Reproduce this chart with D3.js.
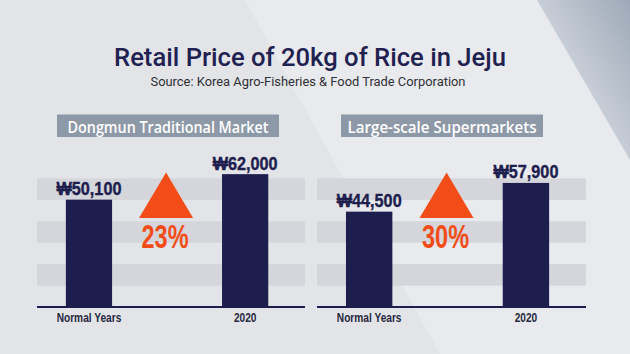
<!DOCTYPE html>
<html>
<head>
<meta charset="utf-8">
<script src="https://cdn.jsdelivr.net/npm/d3@7"></script>
<style>
  html, body { margin: 0; padding: 0; background: #e4e5e8; }
  svg { display: block; }
</style>
</head>
<body>
<svg id="chart" width="630" height="354"></svg>
<script>
// ---- data ----
const title = "Retail Price of 20kg of Rice in Jeju";
const subtitle = "Source: Korea Agro-Fisheries & Food Trade Corporation";
const categories = ["Normal Years", "2020"];
const panelNames = ["Dongmun Traditional Market", "Large-scale Supermarkets"];
const dongmunPrices = [50100, 62000];
const supermarketPrices = [44500, 57900];
const increasePct = [23, 30];
const bandStarts = [10000, 30000, 50000];
const bandSize = 10000;

// ---- styles ----
const W = 630, H = 354;
const navy = "#1d1e4e";
const orange = "#f24d18";
const stripeColor = "#d4d6db";
const headerColor = "#8e99a8";

const svg = d3.select("#chart");

// background
const defs = svg.append("defs");
const g1 = defs.append("linearGradient").attr("id", "corner")
  .attr("x1", "1").attr("y1", "0").attr("x2", "0.3").attr("y2", "0.7");
g1.append("stop").attr("offset", "0").attr("stop-color", "#9ea9b8");
g1.append("stop").attr("offset", "1").attr("stop-color", "#d8dce2");
svg.append("rect").attr("width", W).attr("height", H).attr("fill", "#e3e4e7");
svg.append("polygon").attr("points", "245,0 537,0 630,160 630,354 440,354")
  .attr("fill", "#e9eaed");
svg.append("polygon").attr("points", "537,0 630,0 630,160")
  .attr("fill", "url(#corner)");

// helper: condense text to a factor of its natural width
function condense(sel, factor) {
  sel.each(function() {
    const w = this.getComputedTextLength();
    d3.select(this).attr("textLength", w * factor).attr("lengthAdjust", "spacingAndGlyphs");
  });
}

// title
svg.append("text").attr("x", 310).attr("y", 65.5).attr("text-anchor", "middle")
  .attr("font-family", "Roboto").attr("font-weight", 500).attr("font-size", 26.5)
  .attr("fill", "#1f2150").text(title)
  .call(s => s.attr("textLength", 392).attr("lengthAdjust", "spacingAndGlyphs"));
svg.append("text").attr("x", 308).attr("y", 85.5).attr("text-anchor", "middle")
  .attr("font-family", "Roboto").attr("font-size", 12.5)
  .attr("fill", "#2e3036").text(subtitle)
  .call(s => s.attr("textLength", 315).attr("lengthAdjust", "spacingAndGlyphs"));

// shared y scale
const y = d3.scaleLinear().domain([0, 70000]).range([307, 157]);
const fmt = v => "\u20A9" + d3.format(",")(v);

const panels = [
  { name: panelNames[0], values: dongmunPrices, pct: increasePct[0], x0: 37, x1: 305, hx0: 57, hx1: 279, hw: 201 },
  { name: panelNames[1], values: supermarketPrices, pct: increasePct[1], x0: 317, x1: 586, hx0: 341, hx1: 543, hw: 189 }
];

panels.forEach(p => {
  const g = svg.append("g");
  const x = d3.scaleBand().domain(categories).range([p.x0, p.x1])
    .paddingInner(0.704).paddingOuter(0.21).align(0.44);

  // header
  g.append("rect").attr("x", p.hx0).attr("y", 114.5).attr("width", p.hx1 - p.hx0).attr("height", 22.5)
    .attr("fill", headerColor);
  g.append("text").attr("x", (p.hx0 + p.hx1) / 2).attr("y", 132.5).attr("text-anchor", "middle")
    .attr("font-family", "Open Sans").attr("font-weight", 600).attr("font-size", 16.5)
    .attr("fill", "#ffffff").text(p.name)
    .attr("textLength", p.hw).attr("lengthAdjust", "spacingAndGlyphs");

  // stripes
  g.selectAll("rect.band").data(bandStarts).join("rect").attr("class", "band")
    .attr("x", p.x0).attr("width", p.x1 - p.x0)
    .attr("y", d => y(d + bandSize)).attr("height", d => y(d) - y(d + bandSize))
    .attr("fill", stripeColor);

  // bars
  g.selectAll("rect.bar").data(p.values).join("rect").attr("class", "bar")
    .attr("x", (d, i) => x(categories[i])).attr("width", x.bandwidth())
    .attr("y", d => y(d)).attr("height", d => y(0) - y(d))
    .attr("fill", navy);

  // baseline axis
  const axis = g.append("g").attr("transform", `translate(0,${y(0)})`)
    .call(d3.axisBottom(x).tickSize(0).tickPadding(15));
  axis.select(".domain").attr("stroke", navy).attr("stroke-width", 2.2)
    .attr("d", `M${p.x0},0H${p.x1}`);
  axis.selectAll(".tick text")
    .attr("font-family", "'Liberation Sans Narrow', 'Liberation Sans', sans-serif")
    .attr("font-weight", 700).attr("font-size", 13).attr("fill", "#262840")
    .attr("dy", 0).attr("y", 15)
    .call(condense, 0.78);

  // value labels
  g.selectAll("text.val").data(p.values).join("text").attr("class", "val")
    .attr("x", (d, i) => x(categories[i]) + x.bandwidth() / 2)
    .attr("y", d => y(d) - 4.5)
    .attr("text-anchor", "middle")
    .attr("font-family", "'Liberation Sans Narrow', 'Liberation Sans', sans-serif")
    .attr("font-weight", 700).attr("font-size", 19).attr("fill", navy)
    .attr("stroke", navy).attr("stroke-width", 0.4)
    .text(d => fmt(d))
    .attr("textLength", 65).attr("lengthAdjust", "spacingAndGlyphs");

  // increase triangle + percent
  const cx = (x(categories[0]) + x(categories[1]) + x.bandwidth()) / 2 - 1;
  g.append("path")
    .attr("d", d3.line()([[cx, 172.5], [cx + 27, 218], [cx - 27, 218]]) + "Z")
    .attr("fill", orange);
  g.append("text").attr("x", cx - 1).attr("y", 248).attr("text-anchor", "middle")
    .attr("font-family", "'Liberation Sans Narrow', 'Liberation Sans', sans-serif")
    .attr("font-weight", 700).attr("font-size", 34).attr("fill", orange)
    .text(p.pct + "%")
    .attr("textLength", 47).attr("lengthAdjust", "spacingAndGlyphs");
});
</script>
</body>
</html>
